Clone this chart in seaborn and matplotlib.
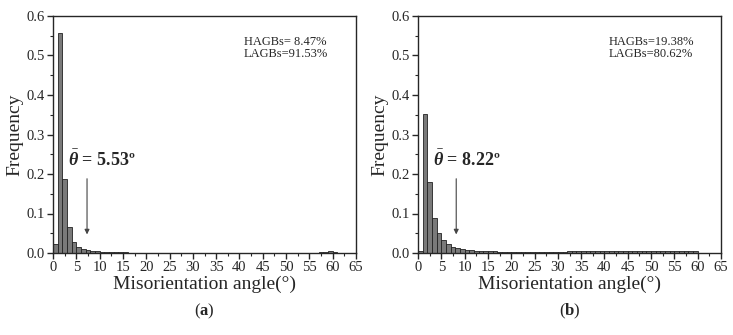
import numpy as np
import pandas as pd
import seaborn as sns
import matplotlib.pyplot as plt
from matplotlib.ticker import MultipleLocator

# bin left edges (1 degree bins, 0-65)
angles = np.arange(0, 65)

freq_a = [0.022, 0.558, 0.187, 0.065, 0.028, 0.015, 0.010, 0.007, 0.005, 0.004,
          0.003, 0.003, 0.002, 0.002, 0.0015, 0.0015, 0.0012, 0.0012, 0.001, 0.001,
          0.001, 0.001, 0.001, 0.001, 0.001, 0.001, 0.001, 0.001, 0.001, 0.001,
          0.001, 0.001, 0.001, 0.001, 0.001, 0.0012, 0.001, 0.001, 0.001, 0.001,
          0.001, 0.001, 0.001, 0.001, 0.001, 0.001, 0.001, 0.001, 0.001, 0.001,
          0.001, 0.001, 0.001, 0.001, 0.001, 0.001, 0.0012, 0.0015, 0.002, 0.004,
          0.002, 0.0005, 0.0, 0.0, 0.0]

freq_b = [0.006, 0.353, 0.179, 0.088, 0.050, 0.032, 0.022, 0.016, 0.012, 0.009,
          0.008, 0.007, 0.006, 0.005, 0.0045, 0.004, 0.004, 0.0035, 0.0035, 0.0035,
          0.0035, 0.0035, 0.0035, 0.0035, 0.0035, 0.0035, 0.0035, 0.0035, 0.0035, 0.0035,
          0.0035, 0.0035, 0.004, 0.004, 0.004, 0.004, 0.004, 0.0045, 0.0045, 0.0045,
          0.0045, 0.0045, 0.005, 0.005, 0.005, 0.005, 0.005, 0.005, 0.0045, 0.0045,
          0.0045, 0.0045, 0.0045, 0.0045, 0.0045, 0.0045, 0.004, 0.004, 0.004, 0.004,
          0.001, 0.001, 0.001, 0.001, 0.001]

panels = [
    ("a", freq_a, "HAGBs= 8.47%", "LAGBs=91.53%", "5.53", 7.3),
    ("b", freq_b, "HAGBs=19.38%", "LAGBs=80.62%", "8.22", 8.2),
]

sns.set_style("ticks")
plt.rcParams["font.family"] = ["Liberation Serif", "DejaVu Serif"]
plt.rcParams["mathtext.fontset"] = "custom"
plt.rcParams["mathtext.rm"] = "Liberation Serif"
plt.rcParams["mathtext.it"] = "Liberation Serif:italic"
plt.rcParams["mathtext.bf"] = "Liberation Serif:bold"
plt.rcParams["mathtext.bfit"] = "Liberation Serif:bold:italic"

fig = plt.figure(figsize=(7.33, 3.35), dpi=100)
lefts = [53 / 733, 418 / 733]
width = 303 / 733
bottom = (335 - 253) / 335
height = (253 - 16) / 335

for i, (tag, freq, line1, line2, val, arrow_x) in enumerate(panels):
    ax = fig.add_axes([lefts[i], bottom, width, height])
    df = pd.DataFrame({"angle": angles + 0.5, "freq": freq})
    sns.histplot(data=df, x="angle", weights="freq", binwidth=1, binrange=(0, 65),
                 color="#7a7a7a", edgecolor="#222222", linewidth=0.6, alpha=1.0, ax=ax)
    ax.set_xlim(0, 65)
    ax.set_ylim(0, 0.6)
    ax.xaxis.set_major_locator(MultipleLocator(5))
    ax.xaxis.set_minor_locator(MultipleLocator(2.5))
    ax.yaxis.set_major_locator(MultipleLocator(0.1))
    ax.yaxis.set_minor_locator(MultipleLocator(0.05))
    ax.tick_params(axis="both", which="major", labelsize=10.5, length=4, width=1,
                   direction="out", pad=2)
    ax.tick_params(axis="both", which="minor", length=2, width=0.8)
    for s in ax.spines.values():
        s.set_linewidth(1.0)
        s.set_visible(True)
    ax.set_xlabel("Misorientation angle(°)", fontsize=14, labelpad=1)
    ax.set_ylabel("Frequency", fontsize=14, labelpad=2)
    ax.text(0.63, 0.892, line1, transform=ax.transAxes, fontsize=9, va="center")
    ax.text(0.63, 0.838, line2, transform=ax.transAxes, fontsize=9, va="center")
    ax.text(3.2, 0.22, r"$\bar{\boldsymbol{\theta}}$ = " + val + "º",
            fontsize=13, fontweight="bold", va="baseline")
    ax.annotate("", xy=(arrow_x, 0.04), xytext=(arrow_x, 0.195),
                arrowprops=dict(arrowstyle="-|>", color="#444444", lw=0.8,
                                mutation_scale=7))
    ax.text(0.5, -0.205, "(" + r"$\mathbf{" + tag + "}$" + ")", transform=ax.transAxes,
            ha="center", va="top", fontsize=12)

fig.savefig("out.png", dpi=100)
